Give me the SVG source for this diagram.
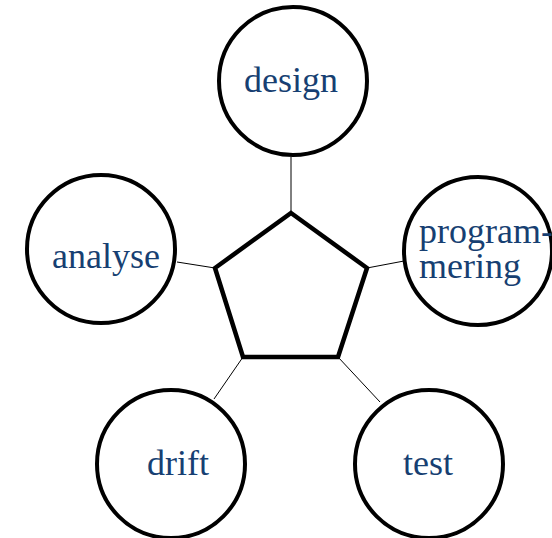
<svg xmlns="http://www.w3.org/2000/svg" width="552" height="538" viewBox="0 0 552 538">
  <style>
    .node circle { fill: #ffffff; stroke: #000000; stroke-width: 4; }
    .node text { font-family: "Liberation Serif", "Times New Roman", serif; font-size: 36px; fill: #173f72; }
    .link { stroke: #000000; stroke-width: 1; fill: none; }
    .hub { fill: #ffffff; stroke: #000000; stroke-width: 4.5; stroke-linejoin: miter; }
  </style>
  <rect width="552" height="538" fill="#ffffff"/>

  <!-- connectors between the hub and the phase circles -->
  <g id="connectors">
    <line class="link" x1="291" y1="213" x2="291" y2="157"/>
    <line class="link" x1="367" y1="268" x2="404" y2="261"/>
    <line class="link" x1="215" y1="268" x2="177" y2="262"/>
    <line class="link" x1="243" y1="357" x2="214" y2="399"/>
    <line class="link" x1="338" y1="357" x2="380" y2="402"/>
  </g>

  <!-- central pentagon -->
  <g id="hub">
    <polygon class="hub" points="291,213 367,268 338,357 243,357 215,268"/>
  </g>

  <g id="design" class="node">
    <circle cx="293" cy="81" r="74"/>
    <text x="291" y="92" text-anchor="middle">design</text>
  </g>

  <g id="programmering" class="node">
    <circle cx="478" cy="251" r="74"/>
    <text x="419" y="243">program-</text>
    <text x="419" y="278">mering</text>
  </g>

  <g id="analyse" class="node">
    <circle cx="101" cy="249" r="74"/>
    <text x="106" y="268" text-anchor="middle">analyse</text>
  </g>

  <g id="drift" class="node">
    <circle cx="171" cy="464" r="74"/>
    <text x="178" y="475" text-anchor="middle">drift</text>
  </g>

  <g id="test" class="node">
    <circle cx="429" cy="464" r="74"/>
    <text x="428" y="475" text-anchor="middle">test</text>
  </g>
</svg>
